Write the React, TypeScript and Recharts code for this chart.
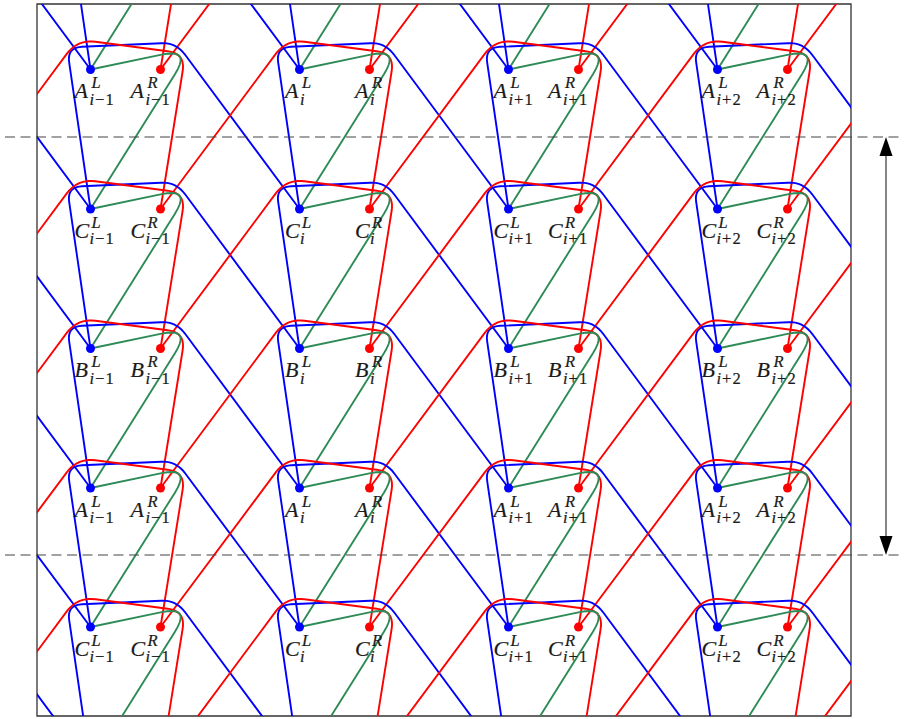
import React from "react";
import {
  ComposedChart,
  XAxis,
  YAxis,
  Line,
  Scatter,
  ReferenceLine,
  ReferenceArea,
  ReferenceDot,
} from "recharts";

const BLUE = "#0000ff";
const RED = "#ff0000";
const GREEN = "#2e8b57";
const INK = "#1a1a1a";

// lattice of the L (blue) points, incl. one ring outside the frame
const latticeX = [-118.5, 90.5, 299.5, 508.5, 717.5, 926.5];
const latticeY = [-70, 69.5, 209, 348.5, 488, 627, 766.5];
// R (red) point sits this far right of its L point
const pairOffset = 70;

// labelled rows / columns (indices into the lattice)
const labelRows = [1, 2, 3, 4, 5];
const labelCols = [1, 2, 3, 4];
const rowLetters = ["A", "C", "B", "A", "C"];
const colOps = ["−", "", "+", "+"];
const colDigits = ["1", "", "1", "2"];
const labelDxL = [-16, -14.5, -15, -16];
const labelDxR = [-30, -14.5, -30.5, -31];

// corner offsets of each cell's three paths
const blueCorners = [
  [-23.5, -22],
  [85.5, -27],
];
const redCorners = [
  [25, -16],
  [-83, -30],
];
const greenCorner = [100.5, -21];
const blueCut = 15;
const redCut = 18;
const greenCut = 30;

const dashedY = [137, 555];
const arrowX = 886;

type Pt = { x: number; y: number };

// tikz-like rounded corners
const roundCorners = (pts: Pt[], cut: number): Pt[] => {
  const out: Pt[] = [pts[0]];
  for (let i = 1; i < pts.length - 1; i++) {
    const p = pts[i - 1];
    const v = pts[i];
    const n = pts[i + 1];
    const d1 = Math.hypot(p.x - v.x, p.y - v.y);
    const d2 = Math.hypot(n.x - v.x, n.y - v.y);
    const a = { x: v.x + ((p.x - v.x) * cut) / d1, y: v.y + ((p.y - v.y) * cut) / d1 };
    const b = { x: v.x + ((n.x - v.x) * cut) / d2, y: v.y + ((n.y - v.y) * cut) / d2 };
    for (let k = 0; k <= 10; k++) {
      const t = k / 10;
      out.push({
        x: (1 - t) * (1 - t) * a.x + 2 * (1 - t) * t * v.x + t * t * b.x,
        y: (1 - t) * (1 - t) * a.y + 2 * (1 - t) * t * v.y + t * t * b.y,
      });
    }
  }
  out.push(pts[pts.length - 1]);
  return out;
};

type Path = { key: string; color: string; pts: Pt[] };
const paths: Path[] = [];
for (let r = 0; r < latticeY.length - 1; r++) {
  for (let c = 0; c < latticeX.length; c++) {
    const bx = latticeX[c];
    const by = latticeY[r];
    const rx = bx + pairOffset;
    const nextY = latticeY[r + 1];
    if (c + 1 < latticeX.length) {
      paths.push({
        key: `b-${r}-${c}`,
        color: BLUE,
        pts: roundCorners(
          [
            { x: bx, y: nextY },
            { x: bx + blueCorners[0][0], y: by + blueCorners[0][1] },
            { x: bx + blueCorners[1][0], y: by + blueCorners[1][1] },
            { x: latticeX[c + 1], y: nextY },
          ],
          blueCut
        ),
      });
    }
    if (c - 1 >= 0) {
      paths.push({
        key: `r-${r}-${c}`,
        color: RED,
        pts: roundCorners(
          [
            { x: rx, y: nextY },
            { x: rx + redCorners[0][0], y: by + redCorners[0][1] },
            { x: rx + redCorners[1][0], y: by + redCorners[1][1] },
            { x: latticeX[c - 1] + pairOffset, y: nextY },
          ],
          redCut
        ),
      });
    }
    paths.push({
      key: `g-${r}-${c}`,
      color: GREEN,
      pts: roundCorners(
        [
          { x: bx, y: by },
          { x: bx + greenCorner[0], y: by + greenCorner[1] },
          { x: bx, y: nextY },
        ],
        greenCut
      ),
    });
  }
}

const labelled: any[] = [];
labelRows.forEach((r, ri) => {
  labelCols.forEach((c, ci) => {
    const base = {
      y: latticeY[r],
      letter: rowLetters[ri],
      op: colOps[ci],
      digit: colDigits[ci],
    };
    labelled.push({ ...base, x: latticeX[c], side: "L", dx: labelDxL[ci] });
    labelled.push({ ...base, x: latticeX[c] + pairOffset, side: "R", dx: labelDxR[ci] });
  });
});

const FONT = "'Liberation Serif', 'DejaVu Serif', serif";
const textStyle = { fontFamily: FONT, fill: INK, stroke: INK, strokeWidth: 0.2 };

const PointMark = (props: any) => {
  const { cx, cy, payload } = props;
  const x0 = cx + payload.dx;
  return (
    <g>
      <circle cx={cx} cy={cy} r={4.5} fill={payload.side === "L" ? BLUE : RED} />
      <text x={x0} y={cy + 28.5} fontSize={22} fontStyle="italic" {...textStyle}>
        {payload.letter}
      </text>
      <text x={x0 + 17} y={cy + 18.5} fontSize={16.5} fontStyle="italic" {...textStyle}>
        {payload.side}
      </text>
      <text x={x0 + 15} y={cy + 35} fontSize={16.5} {...textStyle}>
        <tspan fontStyle="italic">i</tspan>
        {payload.op ? <tspan dx={1}>{payload.op}</tspan> : null}
        {payload.digit ? <tspan dx={1}>{payload.digit}</tspan> : null}
      </text>
    </g>
  );
};

const ArrowHead = ({ cx, cy, dir }: any) => (
  <polygon
    points={`${cx},${cy} ${cx - 6.5},${cy + dir * 19} ${cx + 6.5},${cy + dir * 19}`}
    fill="#000"
  />
);

export default function App() {
  return (
    <div style={{ position: "absolute", left: 0, top: 0, width: 904, height: 719, background: "#fff" }}>
      <ComposedChart width={904} height={719} margin={{ top: 4, right: 53, bottom: 3, left: 37 }}>
        <XAxis type="number" dataKey="x" domain={[37, 851]} allowDataOverflow hide height={0} />
        <YAxis type="number" dataKey="y" domain={[4, 716]} allowDataOverflow reversed hide width={0} />
        {paths.map((p) => (
          <Line
            key={p.key}
            data={p.pts}
            dataKey="y"
            type="linear"
            stroke={p.color}
            strokeWidth={1.9}
            dot={false}
            activeDot={false}
            isAnimationActive={false}
          />
        ))}
        <ReferenceArea x1={37} x2={851} y1={4} y2={716} fill="none" stroke="#333" strokeWidth={1.3} ifOverflow="visible" />
        {dashedY.map((y) => (
          <ReferenceLine
            key={y}
            segment={[
              { x: 5, y },
              { x: 904, y },
            ]}
            stroke="#444"
            strokeWidth={1.2}
            strokeDasharray="10 5.5"
            ifOverflow="visible"
          />
        ))}
        <ReferenceLine
          segment={[
            { x: arrowX, y: dashedY[0] + 10 },
            { x: arrowX, y: dashedY[1] - 10 },
          ]}
          stroke="#444"
          strokeWidth={1.3}
          ifOverflow="visible"
        />
        <ReferenceDot x={arrowX} y={dashedY[0]} ifOverflow="visible" shape={(p: any) => <ArrowHead {...p} dir={1} />} />
        <ReferenceDot x={arrowX} y={dashedY[1]} ifOverflow="visible" shape={(p: any) => <ArrowHead {...p} dir={-1} />} />
        <Scatter data={labelled} dataKey="y" shape={PointMark} isAnimationActive={false} />
      </ComposedChart>
    </div>
  );
}
